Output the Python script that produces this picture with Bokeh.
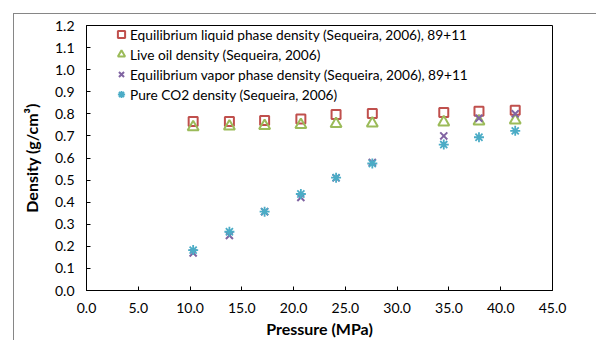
from bokeh.plotting import figure
from bokeh.models import (Range1d, NumeralTickFormatter, FixedTicker, Legend, LegendItem,
                          InlineStyleSheet)
from bokeh.embed import file_html
from bokeh.resources import INLINE

pressure = [10.3, 13.8, 17.2, 20.7, 24.1, 27.6, 34.5, 37.9, 41.4]
liquid = [0.765, 0.765, 0.770, 0.777, 0.797, 0.801, 0.806, 0.812, 0.816]
live_oil = [0.740, 0.743, 0.746, 0.750, 0.755, 0.757, 0.762, 0.766, 0.771]
vapor = [0.170, 0.249, 0.357, 0.421, 0.510, 0.580, 0.700, 0.780, 0.800]
co2 = [0.183, 0.266, 0.357, 0.437, 0.511, 0.575, 0.661, 0.694, 0.723]

x_ticks = [0, 5, 10, 15, 20, 25, 30, 35, 40, 45]
y_ticks = [0.0, 0.1, 0.2, 0.3, 0.4, 0.5, 0.6, 0.7, 0.8, 0.9, 1.0, 1.1, 1.2]

labels = ["Equilibrium liquid phase density (Sequeira, 2006), 89+11",
          "Live oil density (Sequeira, 2006)",
          "Equilibrium vapor phase density (Sequeira, 2006), 89+11",
          "Pure CO2 density (Sequeira, 2006)"]
colors = ["#C0504D", "#9BBB59", "#8064A2", "#4BACC6"]

FONT = "Lato"

p = figure(width=596, height=340, output_backend="svg", toolbar_location=None,
           x_range=Range1d(0, 45), y_range=Range1d(0, 1.2),
           min_border_left=86, min_border_right=44, min_border_top=25, min_border_bottom=49)
p.background_fill_color = "white"
p.border_fill_color = "white"
# outer chart-area border (only its top and left edges are inside the picture)
p.stylesheets = [InlineStyleSheet(css=(
    ":host { position: relative; overflow: hidden; }\n"
    ":host::after { content: ''; position: absolute; left: 13px; top: 13px;"
    " width: 800px; height: 600px;"
    " border-left: 1px solid #868686; border-top: 1px solid #868686;"
    " pointer-events: none; z-index: 10; }"))]
p.outline_line_color = "black"
p.outline_line_width = 1
p.xgrid.visible = False
p.ygrid.visible = False

for ax, ticks in ((p.xaxis, x_ticks), (p.yaxis, y_ticks)):
    ax.ticker = FixedTicker(ticks=ticks)
    ax.formatter = NumeralTickFormatter(format="0.0")
    ax.major_tick_in = 4
    ax.major_tick_out = 0
    ax.minor_tick_line_color = None
    ax.axis_line_color = "black"
    ax.major_tick_line_color = "black"
    ax.major_label_text_font = FONT
    ax.major_label_text_font_size = "14px"
    ax.major_label_text_color = "black"
    ax.major_label_standoff = 12
    ax.axis_label_text_font = FONT
    ax.axis_label_text_font_size = "16px"
    ax.axis_label_text_font_style = "bold"
    ax.axis_label_text_color = "black"

p.yaxis.axis_label = "Density (g/cm³)"
p.yaxis.axis_label_standoff = 11
p.xaxis.axis_label = "Pressure (MPa)"
p.xaxis.axis_label_standoff = 3

r1 = p.scatter(pressure, liquid, marker="square", size=9, fill_color=None,
               line_color=colors[0], line_width=2)
r2 = p.scatter(pressure, live_oil, marker="triangle", size=11, fill_color=None,
               line_color=colors[1], line_width=2)
r3 = p.scatter(pressure, vapor, marker="x", size=10, line_color=colors[2], line_width=2)
r4 = p.scatter(pressure, co2, marker="asterisk", size=10, line_color=colors[3], line_width=1.8)

legend = Legend(items=[LegendItem(label=l, renderers=[r]) for l, r in zip(labels, [r1, r2, r3, r4])],
                location=(26, 186), padding=0, margin=0, spacing=0,
                glyph_width=18, glyph_height=20, label_height=20, label_standoff=0,
                label_text_font=FONT, label_text_font_size="13.7px", label_text_color="black",
                border_line_color=None, background_fill_alpha=0)
p.add_layout(legend)

open("out.html", "w").write(file_html(p, INLINE))
